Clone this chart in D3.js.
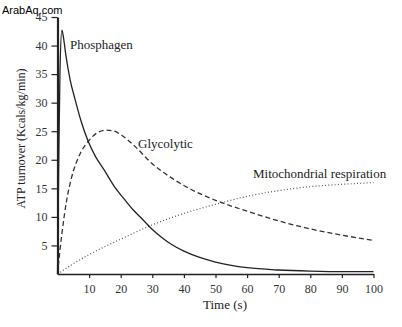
<!DOCTYPE html>
<html><head><meta charset="utf-8">
<script src="https://cdn.jsdelivr.net/npm/d3@7/dist/d3.min.js"></script>
<style>html,body{margin:0;padding:0;background:#fff;}svg{display:block;}</style>
</head><body><svg id="c" width="402" height="327"></svg>
<script>
const xTicks = [10,20,30,40,50,60,70,80,90,100];
const yTicks = [5,10,15,20,25,30,35,40,45];
const phosT = [0,0.4,0.8,1.4,2,2.6,4,5.6,7.5,9.8,12,15,18,21,24,27,30,33,36,40,45,50,55,60,70,80,90,100];
const phosV = [0,20,36,42.7,41,38.5,34,30.5,26.7,23.1,20.6,18.0,15.3,13.2,11.2,9.5,7.8,6.4,5.2,4.0,2.9,2.1,1.5,1.1,0.7,0.5,0.4,0.4];
const glyT = [0,1.4,2.9,4.5,7.2,10,12.5,15.5,18,20.3,24.6,29.8,35.6,42,50,60,70,80,90,100];
const glyV = [0,7.1,12.9,17,21.1,23.4,24.7,25.2,25.0,24.3,22.3,19.4,17.0,14.9,12.9,11.0,9.3,7.9,6.8,5.9];
const mitoT = [0,5,10,20,30,40,50,60,70,80,90,100];
const mitoV = [0,1.8,3.4,6.1,8.6,10.6,12.2,13.6,14.6,15.3,15.7,16.0];
const seriesNames = ["Phosphagen","Glycolytic","Mitochondrial respiration"];

const svg = d3.select("#c");
const x = d3.scaleLinear().domain([0,100]).range([57.5,373.5]);
const y = d3.scaleLinear().domain([0,45]).range([274,17]);
const serif = "'Liberation Serif','Times New Roman',serif";

svg.append("text").attr("x",2).attr("y",14).attr("font-family","'Liberation Sans',Arial,sans-serif")
  .attr("font-size",11).attr("fill","#000").text("ArabAq.com");

const xa = svg.append("g").attr("transform","translate(0,274)")
  .call(d3.axisBottom(x).tickValues(xTicks).tickSize(4).tickPadding(6).tickSizeOuter(0));
const ya = svg.append("g").attr("transform","translate(57.5,0)")
  .call(d3.axisLeft(y).tickValues(yTicks).tickSize(6).tickPadding(4).tickSizeOuter(0));
[xa,ya].forEach(g=>{
  g.selectAll("text").attr("font-family",serif).attr("font-size",12).attr("fill","#333");
  g.selectAll("line").attr("stroke","#222").attr("stroke-width",1.2);
  g.select(".domain").attr("stroke","#222").attr("stroke-width",1.3);
});
ya.select(".domain").attr("stroke-width",2.2);

const mk = (T,V)=>T.map((t,i)=>[t,V[i]]);
const line = d3.line().x(d=>x(d[0])).y(d=>y(d[1])).curve(d3.curveMonotoneX);
svg.append("path").attr("d",line(mk(mitoT,mitoV))).attr("fill","none")
  .attr("stroke","#555").attr("stroke-width",1.2).attr("stroke-dasharray","1,2.2");
svg.append("path").attr("d",line(mk(glyT,glyV))).attr("fill","none")
  .attr("stroke","#333").attr("stroke-width",1.3).attr("stroke-dasharray","5,3");
svg.append("path").attr("d",line(mk(phosT,phosV))).attr("fill","none")
  .attr("stroke","#222").attr("stroke-width",1.3);

const labels = [[70,49],[138,148],[253,178]];
seriesNames.forEach((n,i)=>{
  svg.append("text").attr("x",labels[i][0]).attr("y",labels[i][1]).attr("font-family",serif)
    .attr("font-size",13).attr("fill","#222").text(n);
});

svg.append("text").attr("x",225).attr("y",309).attr("text-anchor","middle").attr("font-family",serif)
  .attr("font-size",13).attr("fill","#222").text("Time (s)");
svg.append("text").attr("transform","translate(25,138.5) rotate(-90)").attr("text-anchor","middle")
  .attr("font-family",serif).attr("font-size",12).attr("fill","#222").text("ATP turnover (Kcals/kg/min)");
</script></body></html>
